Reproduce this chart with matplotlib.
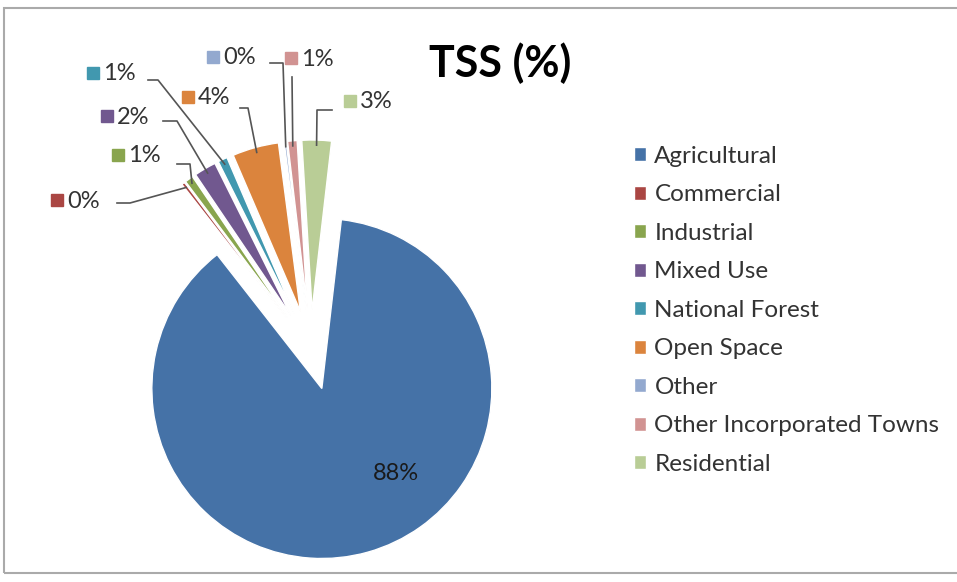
import matplotlib
matplotlib.use('Agg')
import matplotlib.pyplot as plt
from matplotlib.patches import Rectangle
import numpy as np

plt.rcParams['font.family'] = ['Lato', 'DejaVu Sans']

categories = ['Agricultural', 'Commercial', 'Industrial', 'Mixed Use', 'National Forest',
              'Open Space', 'Other', 'Other Incorporated Towns', 'Residential']
tss_pct = [87.6, 0.3, 0.8, 2.1, 0.9, 4.4, 0.2, 0.9, 2.8]
colors = ['#4572A7', '#AA4643', '#89A54E', '#71588F', '#4198AF',
          '#DB843D', '#93A9CF', '#D19392', '#B9CD96']

W, H = 957, 582
fig = plt.figure(figsize=(W / 100, H / 100), dpi=100)
ax = fig.add_axes([0, 0, 1, 1])


def px(x, y):
    # pixel position (top-left origin) -> data coords
    return x, H - y


R = 170
wedges, _ = ax.pie(tss_pct, colors=colors, startangle=83.4, counterclock=False,
                   explode=[40] * len(tss_pct), radius=R, center=px(311, 350),
                   wedgeprops=dict(edgecolor='white', linewidth=1), frame=True)
ax.set_xlim(0, W)
ax.set_ylim(0, H)
ax.set_aspect('equal')
ax.axis('off')

# big slice label inside
ax.text(*px(396, 473), '%d%%' % round(tss_pct[0]), fontsize=17, color='#1a1a1a',
        ha='center', va='center')

# outside labels: (square x, y) and elbow point, in pixels
label_pos = {
    1: ((57, 200), (130, 203)),
    2: ((118, 155), (190, 164)),
    3: ((107, 116), (177, 121)),
    4: ((93, 73), (158, 80)),
    5: ((188, 97), (248, 108)),
    6: ((213, 57), (283, 63)),
    7: ((291, 58), (292, 77)),
    8: ((350, 101), (317, 110)),
}
stub_start = {1: 117, 2: 177, 3: 163, 4: 148, 5: 240, 6: 270, 8: 332}

for i, ((sx, sy), (ex, ey)) in label_pos.items():
    w = wedges[i]
    m = np.deg2rad((w.theta1 + w.theta2) / 2)
    wx = w.center[0] + 0.97 * w.r * np.cos(m)
    wy = w.center[1] + 0.97 * w.r * np.sin(m)
    ax.plot(*px(sx, sy), marker='s', markersize=8, color=colors[i], linestyle='none')
    ax.text(*px(sx + 10, sy + 1), '%d%%' % round(tss_pct[i]), fontsize=17,
            color='#333333', ha='left', va='center')
    if i == 7:
        ax.plot([ex, wx], [H - ey, wy], color='#555555', linewidth=1.2)
    else:
        ax.plot([stub_start[i], ex, wx], [H - ey, H - ey, wy], color='#555555', linewidth=1.2)

fig.text(500 / W, 1 - 63 / H, 'TSS (%)', fontsize=31, fontweight='bold',
         ha='center', va='center', color='black')

leg = fig.legend(wedges, categories, loc='upper left', bbox_to_anchor=(624 / W, 1 - 136 / H),
                 frameon=False, fontsize=17.5, handlelength=0.5, handleheight=0.5,
                 handletextpad=0.35, labelspacing=0.72, labelcolor='#333333',
                 borderaxespad=0)

fig.patches.append(Rectangle((4 / W, 1 - 573 / H), 1.1, (573 - 8) / H,
                             transform=fig.transFigure, fill=False,
                             edgecolor='#aaaaaa', linewidth=1.5))

fig.savefig('out.png', dpi=100)
